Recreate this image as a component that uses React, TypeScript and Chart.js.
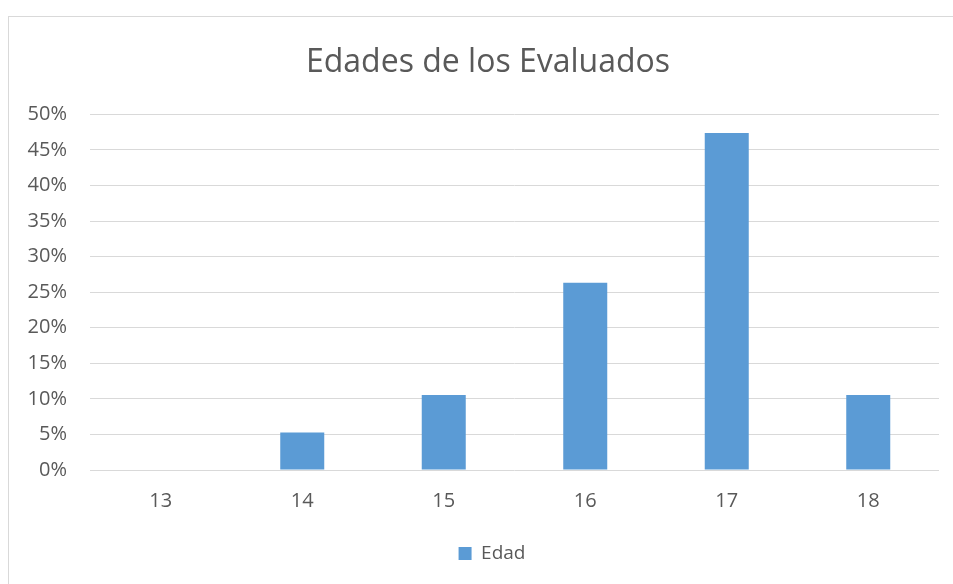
import React, { useEffect, useRef } from "react";
import { Chart, registerables } from "chart.js";

Chart.register(...registerables);

const categories = ["13", "14", "15", "16", "17", "18"];
const edadValues = [0, 5.26, 10.53, 26.32, 47.37, 10.53];
const seriesLabel = "Edad";
const titleText = "Edades de los Evaluados";
const yMax = 50;
const yStep = 5;

const FONT = "'Open Sans', sans-serif";
const TEXT = "#595959";

// Shifts title and legend horizontally to match the original's centring
const shiftBoxes = {
  id: "shiftBoxes",
  afterLayout(chart: any) {
    const t = chart.titleBlock;
    if (t) {
      t.left += 14;
      t.right += 14;
    }
    const l = chart.legend;
    if (l) {
      l.left += 18;
      l.right += 18;
    }
  },
};

export default function App() {
  const ref = useRef<HTMLCanvasElement | null>(null);

  useEffect(() => {
    if (!ref.current) return;
    const chart = new Chart(ref.current, {
      type: "bar",
      data: {
        labels: categories,
        datasets: [
          {
            label: seriesLabel,
            data: edadValues,
            backgroundColor: "#5b9bd5",
            borderWidth: 0,
            categoryPercentage: 1,
            barPercentage: 0.311,
          },
        ],
      },
      plugins: [shiftBoxes],
      options: {
        responsive: false,
        animation: false,
        layout: { padding: { left: 0, right: 14, top: 0, bottom: 11 } },
        plugins: {
          title: {
            display: true,
            text: titleText,
            color: TEXT,
            font: { family: FONT, size: 32, weight: "normal" },
            padding: { top: 27, bottom: 32 },
          },
          legend: {
            display: true,
            position: "bottom",
            labels: {
              color: TEXT,
              font: { family: FONT, size: 19 },
              boxWidth: 13,
              boxHeight: 13,
              padding: 10,
            },
          },
          tooltip: { enabled: false },
        },
        scales: {
          x: {
            grid: { display: false, drawTicks: false },
            border: { display: false },
            ticks: {
              color: TEXT,
              font: { family: FONT, size: 20 },
              padding: 19,
            },
            afterFit: (scale: any) => {
              scale.height = 64;
            },
          },
          y: {
            min: 0,
            max: yMax,
            grid: { color: "#d9d9d9", lineWidth: 1, drawTicks: false },
            border: { display: false },
            ticks: {
              stepSize: yStep,
              color: TEXT,
              font: { family: FONT, size: 20 },
              padding: 23,
              callback: (v: any) => v + "%",
            },
            afterFit: (scale: any) => {
              scale.width = 81;
            },
          },
        },
      },
    });
    return () => chart.destroy();
  }, []);

  return (
    <div
      style={{
        position: "fixed",
        left: 8,
        top: 16,
        width: 945,
        height: 568,
        borderLeft: "1px solid #d9d9d9",
        borderTop: "1px solid #d9d9d9",
        boxSizing: "border-box",
        background: "#fff",
      }}
    >
      <canvas ref={ref} width={944} height={567} style={{ display: "block" }} />
    </div>
  );
}
